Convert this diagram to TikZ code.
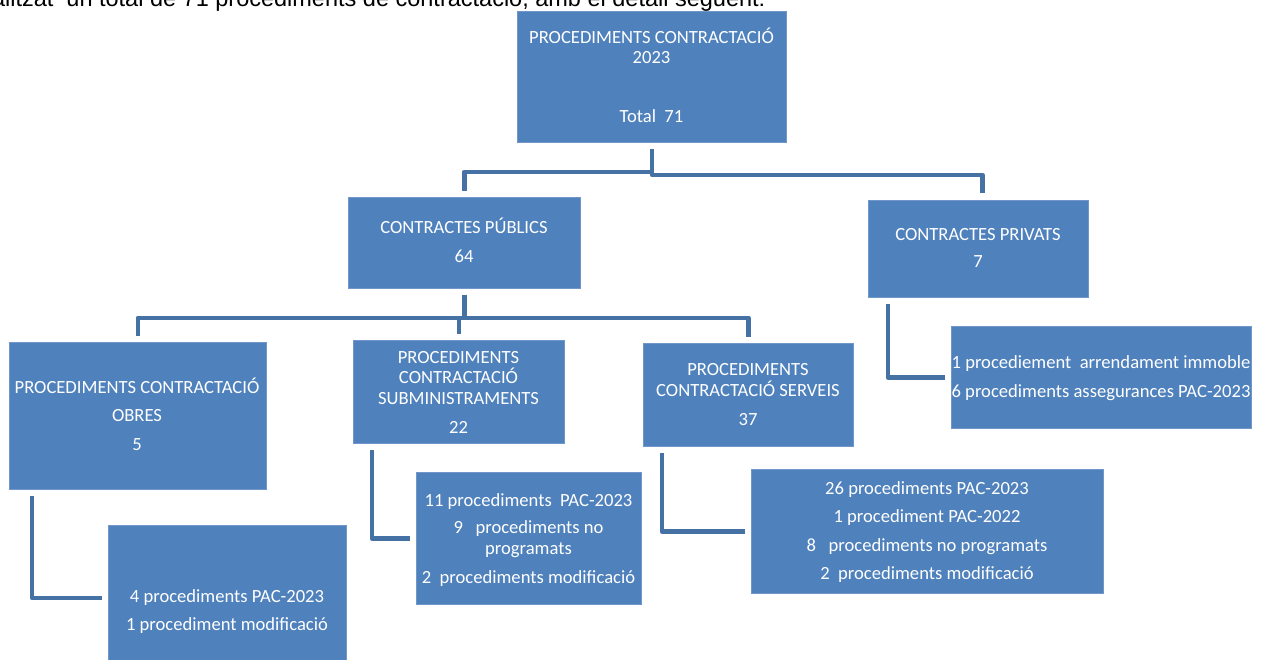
\documentclass[tikz,border=0pt]{standalone}
\usepackage{fontspec}
\setmainfont{Carlito}
\newfontfamily\hdrfont{Liberation Sans}
\definecolor{boxblue}{HTML}{4F81BD}
\definecolor{boxedge}{HTML}{7096CA}
\definecolor{connblue}{HTML}{4671A5}
\begin{document}
\begin{tikzpicture}[x=1pt,y=-1pt,
  box/.style={fill=boxblue,draw=boxedge,line width=0.8pt,inner sep=0pt,anchor=north west},
  txt/.style={anchor=base,inner sep=0pt,text=white,font=\fontsize{18.6}{21}\selectfont},
  conn/.style={draw=connblue,line width=4.5pt,line join=round,line cap=butt}]
\clip (0,0) rectangle (1272,660);
\fill[white] (0,0) rectangle (1272,660);
% header line (cut off at top)
\node[anchor=base west,inner sep=0pt,font=\hdrfont\fontsize{23.5}{28}\selectfont] (hdr) at (-33,7)
  {finalitzat\ \ un total de 71 procediments de contractació, amb el detall següent:};
% boxes
\node[box,minimum width=269pt,minimum height=131pt] (top) at (517,11) {};
\node[box,minimum width=232pt,minimum height=91pt] (pub) at (348,197) {};
\node[box,minimum width=220pt,minimum height=97pt] (priv) at (868,200) {};
\node[box,minimum width=300pt,minimum height=102pt] (privd) at (951,326) {};
\node[box,minimum width=257pt,minimum height=147pt] (obres) at (9,342) {};
\node[box,minimum width=238pt,minimum height=145pt] (obresd) at (108,525) {};
\node[box,minimum width=211pt,minimum height=103pt] (subm) at (353,340) {};
\node[box,minimum width=225pt,minimum height=132pt] (submd) at (416,472) {};
\node[box,minimum width=210pt,minimum height=103pt] (serv) at (643,343) {};
\node[box,minimum width=352pt,minimum height=124pt] (servd) at (751,469) {};
% texts
\node[txt] (t1) at (651.5,44) {PROCEDIMENTS CONTRACTACIÓ};
\node[txt] (t2) at (651.5,64) {2023};
\node[txt] (t3) at (651.5,123) {Total\ \ 71};
\node[txt] (p1) at (464,234) {CONTRACTES PÚBLICS};
\node[txt] (p2) at (464,263) {64};
\node[txt] (v1) at (978,241) {CONTRACTES PRIVATS};
\node[txt] (v2) at (978,268) {7};
\node[txt] (vd1) at (1101,369) {1 procediement\ \ arrendament immoble};
\node[txt] (vd2) at (1101,397) {6 procediments assegurances PAC-2023};
\node[txt] (o1) at (137,393) {PROCEDIMENTS CONTRACTACIÓ};
\node[txt] (o2) at (137,421) {OBRES};
\node[txt] (o3) at (137,450) {5};
\node[txt] (od1) at (227,602) {4 procediments PAC-2023};
\node[txt] (od2) at (227,630) {1 procediment modificació};
\node[txt] (s1) at (458.5,363) {PROCEDIMENTS};
\node[txt] (s2) at (458.5,383) {CONTRACTACIÓ};
\node[txt] (s3) at (458.5,404) {SUBMINISTRAMENTS};
\node[txt] (s4) at (458.5,433) {22};
\node[txt] (sd1) at (528.5,506) {11 procediments\ \ PAC-2023};
\node[txt] (sd2) at (528.5,533) {9\ \ \ procediments no};
\node[txt] (sd3) at (528.5,554) {programats};
\node[txt] (sd4) at (528.5,583) {2\ \ procediments modificació};
\node[txt] (r1) at (748,375) {PROCEDIMENTS};
\node[txt] (r2) at (748,396) {CONTRACTACIÓ SERVEIS};
\node[txt] (r3) at (748,425) {37};
\node[txt] (rd1) at (927,494) {26 procediments PAC-2023};
\node[txt] (rd2) at (927,522) {1 procediment PAC-2022};
\node[txt] (rd3) at (927,551) {8\ \ \ procediments no programats};
\node[txt] (rd4) at (927,579) {2\ \ procediments modificació};
% connectors
\draw[conn] ([yshift=-6pt]top.south) -- ++(0,23) -| ([yshift=6pt]pub.north);
\draw[conn] ([yshift=-6pt]top.south) -- ++(0,26) -| ([xshift=4pt,yshift=7pt]priv.north);
\draw[conn] ([yshift=-6pt]pub.south) -- ++(0,23) -| ([yshift=6pt]obres.north);
\draw[conn] ([yshift=-6pt]pub.south) -- ++(0,23) -| ([yshift=6pt]subm.north);
\draw[conn] ([yshift=-6pt]pub.south) -- ++(0,23) -| ([yshift=6pt]serv.north);
\draw[conn] ([xshift=23pt,yshift=-6pt]obres.south west) |- ([xshift=-6pt]obresd.west);
\draw[conn] ([xshift=19pt,yshift=-6pt]subm.south west) |- ([xshift=-6pt]submd.west);
\draw[conn] ([xshift=19pt,yshift=-6pt]serv.south west) |- ([xshift=-6pt]servd.west);
\draw[conn] ([xshift=20pt,yshift=-6pt]priv.south west) |- ([xshift=-6pt]privd.west);
\end{tikzpicture}
\end{document}
